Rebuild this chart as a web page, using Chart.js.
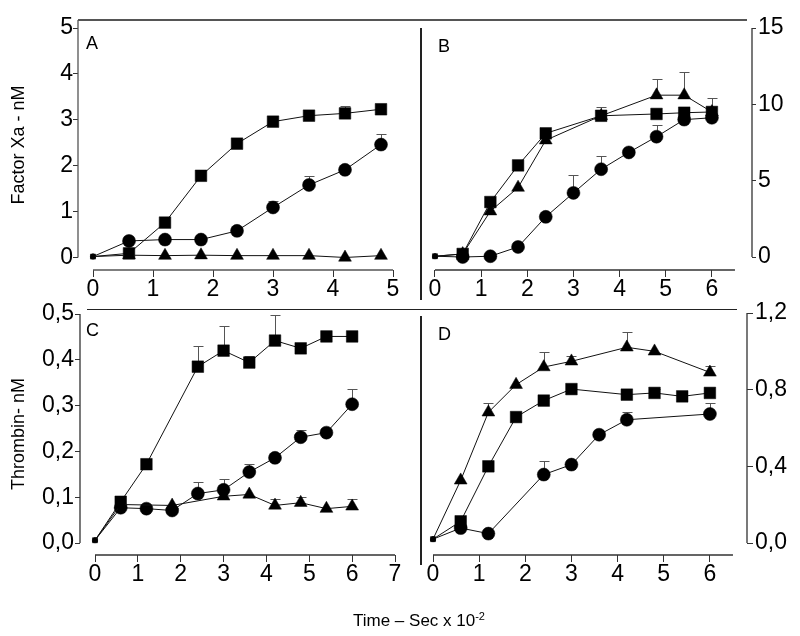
<!DOCTYPE html>
<html><head><meta charset="utf-8">
<script src="https://cdn.jsdelivr.net/npm/chart.js@4.4.1/dist/chart.umd.min.js"></script>
<style>
html,body{margin:0;padding:0;background:#fff;}
#wrap{position:relative;width:800px;height:636px;overflow:hidden;font-family:'Liberation Sans',Arial,sans-serif;}
canvas{position:absolute;left:0;top:0;}
.ln{position:absolute;background:#555;}
.lbl{position:absolute;font-size:18px;line-height:1;color:#000;white-space:nowrap;}
.xt{position:absolute;font-size:17px;line-height:1;color:#000;white-space:nowrap;}
.xt sup{font-size:11px;vertical-align:6px;line-height:0;}
</style></head><body>
<div id="wrap">
  <canvas id="cA" width="800" height="636"></canvas>
  <canvas id="cB" width="800" height="636"></canvas>
  <canvas id="cC" width="800" height="636"></canvas>
  <canvas id="cD" width="800" height="636"></canvas>
  <div class="ln" style="left:78px;top:19px;width:669px;height:1.5px"></div>
  <div class="ln" style="left:420px;top:28px;width:1.5px;height:272px;background:#222"></div>
  <div class="ln" style="left:87px;top:308.5px;width:650px;height:1.5px;background:#222"></div>
  <div class="ln" style="left:420px;top:316px;width:1.5px;height:249px;background:#222"></div>
  <div class="lbl" style="left:86px;top:34px">A</div>
  <div class="lbl" style="left:438px;top:37px">B</div>
  <div class="lbl" style="left:86px;top:321px">C</div>
  <div class="lbl" style="left:438px;top:325px">D</div>
  <div class="xt" style="left:353px;top:612px">Time – Sec x 10<sup>-2</sup></div>
</div>
<script>
const FONT = "'Liberation Sans', Arial, sans-serif";

// ---------- Panel A : Factor Xa (nM) ----------
const A_TIME = [0, 0.6, 1.2, 1.8, 2.4, 3.0, 3.6, 4.2, 4.8];
const A_SQUARE = [0.02, 0.09, 0.76, 1.78, 2.48, 2.96, 3.09, 3.14, 3.23];
const A_SQUARE_ERR = [null, null, null, null, null, null, null, 0.17, null];
const A_CIRCLE = [0.02, 0.36, 0.39, 0.39, 0.58, 1.09, 1.58, 1.91, 2.46];
const A_CIRCLE_ERR = [null, null, null, null, null, 0.13, 0.19, null, 0.23];
const A_TRIANGLE = [0.02, 0.05, 0.04, 0.05, 0.04, 0.04, 0.04, 0.0, 0.04];
const A_XTICKS = [0, 1, 2, 3, 4, 5];
const A_XLABELS = ['0', '1', '2', '3', '4', '5'];
const A_YTICKS = [0, 1, 2, 3, 4, 5];
const A_YLABELS = ['0', '1', '2', '3', '4', '5'];

// ---------- Panel B : Factor Xa (nM) ----------
const B_SQUARE_TIME = [0, 0.6, 1.2, 1.8, 2.4, 3.6, 4.8, 5.4, 6.0];
const B_SQUARE = [0.05, 0.2, 3.6, 6.0, 8.1, 9.25, 9.37, 9.45, 9.5];
const B_SQUARE_ERR = [null, null, null, null, null, null, null, null, null];
const B_TRIANGLE_TIME = [0, 0.6, 1.2, 1.8, 2.4, 3.6, 4.8, 5.4, 6.0];
const B_TRIANGLE = [0.05, 0.2, 3.0, 4.55, 7.65, 9.25, 10.6, 10.6, 9.5];
const B_TRIANGLE_ERR = [null, null, null, null, null, 0.55, 1.05, 1.55, 0.9];
const B_CIRCLE_TIME = [0, 0.6, 1.2, 1.8, 2.4, 3.0, 3.6, 4.2, 4.8, 5.4, 6.0];
const B_CIRCLE = [0.05, 0.0, 0.05, 0.66, 2.63, 4.2, 5.75, 6.85, 7.88, 9.0, 9.12];
const B_CIRCLE_ERR = [null, null, null, null, null, 1.15, 0.85, null, 0.76, null, null];
const B_XTICKS = [0, 1, 2, 3, 4, 5, 6];
const B_XLABELS = ['0', '1', '2', '3', '4', '5', '6'];
const B_YTICKS = [0, 5, 10, 15];
const B_YLABELS = ['0', '5', '10', '15'];

// ---------- Panel C : Thrombin (nM) ----------
const C_SQUARE_TIME = [0, 0.6, 1.2, 2.4, 3.0, 3.6, 4.2, 4.8, 5.4, 6.0];
const C_SQUARE = [0.006, 0.09, 0.172, 0.385, 0.42, 0.394, 0.442, 0.425, 0.451, 0.451];
const C_SQUARE_ERR = [null, null, null, 0.045, 0.053, 0.014, 0.055, null, null, null];
const C_CIRCLE_TIME = [0, 0.6, 1.2, 1.8, 2.4, 3.0, 3.6, 4.2, 4.8, 5.4, 6.0];
const C_CIRCLE = [0.006, 0.077, 0.075, 0.071, 0.108, 0.116, 0.155, 0.186, 0.231, 0.241, 0.303];
const C_CIRCLE_ERR = [null, null, null, null, 0.025, 0.024, 0.018, null, 0.016, null, 0.034];
const C_TRIANGLE_TIME = [0, 0.6, 1.8, 3.0, 3.6, 4.2, 4.8, 5.4, 6.0];
const C_TRIANGLE = [0.006, 0.084, 0.082, 0.102, 0.106, 0.082, 0.088, 0.075, 0.08];
const C_TRIANGLE_ERR = [null, null, null, null, null, 0.015, 0.012, null, 0.017];
const C_XTICKS = [0, 1, 2, 3, 4, 5, 6, 7];
const C_XLABELS = ['0', '1', '2', '3', '4', '5', '6', '7'];
const C_YTICKS = [0, 0.1, 0.2, 0.3, 0.4, 0.5];
const C_YLABELS = ['0,0', '0,1', '0,2', '0,3', '0,4', '0,5'];

// ---------- Panel D : Thrombin (nM) ----------
const D_TRIANGLE_TIME = [0, 0.6, 1.2, 1.8, 2.4, 3.0, 4.2, 4.8, 6.0];
const D_TRIANGLE = [0.02, 0.327, 0.682, 0.826, 0.918, 0.948, 1.021, 1.0, 0.89];
const D_TRIANGLE_ERR = [null, null, 0.05, null, 0.08, 0.03, 0.078, null, 0.035];
const D_SQUARE_TIME = [0, 0.6, 1.2, 1.8, 2.4, 3.0, 4.2, 4.8, 5.4, 6.0];
const D_SQUARE = [0.02, 0.113, 0.4, 0.657, 0.743, 0.803, 0.774, 0.783, 0.765, 0.783];
const D_SQUARE_ERR = [null, null, 0.025, null, null, null, null, 0.02, null, null];
const D_CIRCLE_TIME = [0, 0.6, 1.2, 2.4, 3.0, 3.6, 4.2, 6.0];
const D_CIRCLE = [0.02, 0.078, 0.049, 0.357, 0.409, 0.565, 0.643, 0.673];
const D_CIRCLE_ERR = [null, null, null, 0.07, null, null, 0.04, 0.06];
const D_XTICKS = [0, 1, 2, 3, 4, 5, 6];
const D_XLABELS = ['0', '1', '2', '3', '4', '5', '6'];
const D_YTICKS = [0, 0.4, 0.8, 1.2];
const D_YLABELS = ['0,0', '0,4', '0,8', '1,2'];

// ---------- helpers ----------
const TICK_SIZE = 23;
const RADIUS = { rect: 8.2, circle: 6.5, triangle: 7.4 };
const SMALL = { rect: 3.6, circle: 2.6, triangle: 3 };

function series(style, xs, ys, errs) {
  return {
    data: xs.map((x, i) => ({ x: x, y: ys[i] })),
    showLine: true,
    borderColor: '#111',
    borderWidth: 1,
    backgroundColor: '#000',
    pointStyle: style,
    pointRadius: xs.map((x, i) => i === 0 ? SMALL[style] : RADIUS[style]),
    pointBackgroundColor: '#000',
    pointBorderColor: '#000',
    pointBorderWidth: 0.5,
    errUp: errs || null,
    clip: false
  };
}

const errorBars = {
  id: 'errorBars',
  beforeDatasetsDraw(chart) {
    const ctx = chart.ctx, xs = chart.scales.x, ys = chart.scales.y;
    ctx.save();
    ctx.strokeStyle = '#555';
    ctx.lineWidth = 1;
    chart.data.datasets.forEach(ds => {
      if (!ds.errUp) return;
      ds.data.forEach((p, i) => {
        const e = ds.errUp[i];
        if (e == null) return;
        const px = Math.round(xs.getPixelForValue(p.x)) + 0.5;
        const py = ys.getPixelForValue(p.y);
        const pt = Math.round(ys.getPixelForValue(p.y + e)) + 0.5;
        ctx.beginPath();
        ctx.moveTo(px, py); ctx.lineTo(px, pt);
        ctx.moveTo(px - 5, pt); ctx.lineTo(px + 5, pt);
        ctx.stroke();
      });
    });
    ctx.restore();
  }
};

const axisLines = {
  id: 'axisLines',
  afterDraw(chart, args, o) {
    const ctx = chart.ctx, xs = chart.scales.x, ys = chart.scales.y;
    ctx.save();
    ctx.strokeStyle = o.color || '#333';
    ctx.lineWidth = 1.3;
    ctx.beginPath();
    const yb = xs.top;
    ctx.moveTo(xs.getPixelForValue(o.xFrom), yb);
    ctx.lineTo(xs.getPixelForValue(o.xTo), yb);
    const yx = ys.position === 'left' ? ys.right : ys.left;
    ctx.moveTo(yx, ys.getPixelForValue(o.yFrom));
    ctx.lineTo(yx, ys.getPixelForValue(o.yTo));
    ctx.stroke();
    ctx.restore();
  }
};

function makeChart(id, c) {
  return new Chart(document.getElementById(id), {
    type: 'scatter',
    data: { datasets: c.datasets },
    plugins: [errorBars, axisLines],
    options: {
      responsive: false,
      animation: false,
      devicePixelRatio: 1,
      events: [],
      layout: { padding: c.padding },
      plugins: {
        legend: { display: false },
        tooltip: { enabled: false },
        axisLines: c.axis
      },
      scales: {
        x: {
          type: 'linear', position: 'bottom', min: c.xmin, max: c.xmax,
          afterBuildTicks: s => { s.ticks = c.xticks.map(v => ({ value: v })); },
          afterFit: s => { s.height = 40; },
          grid: { drawOnChartArea: false, drawTicks: true, tickLength: 7, color: '#333', lineWidth: 1 },
          border: { display: false },
          ticks: {
            font: { size: TICK_SIZE, family: FONT, lineHeight: 1 }, color: '#000', padding: 1,
            maxRotation: 0, minRotation: 0, autoSkip: false,
            callback: (v, i) => c.xlabels[i]
          }
        },
        y: {
          type: 'linear', position: c.ypos, min: c.ymin, max: c.ymax,
          afterBuildTicks: s => { s.ticks = c.yticks.map(v => ({ value: v })); },
          afterFit: s => { s.width = c.ywidth; },
          grid: { drawOnChartArea: false, drawTicks: true, tickLength: c.ytl, color: '#333', lineWidth: 1 },
          border: { display: false },
          ticks: {
            font: { size: TICK_SIZE, family: FONT, lineHeight: 1 }, color: '#000', padding: c.ypad,
            autoSkip: false,
            callback: (v, i) => c.ylabels[i]
          },
          title: c.ytitle ? {
            display: true, text: c.ytitle, color: '#000',
            font: { size: 18, family: FONT, lineHeight: 1.2 },
            padding: { top: 8, bottom: 0 }
          } : { display: false }
        }
      }
    }
  });
}

// Panel A
makeChart('cA', {
  datasets: [
    series('triangle', A_TIME, A_TRIANGLE, null),
    series('circle', A_TIME, A_CIRCLE, A_CIRCLE_ERR),
    series('rect', A_TIME, A_SQUARE, A_SQUARE_ERR)
  ],
  padding: { left: 0, top: 20, right: 407, bottom: 326 },
  xmin: -0.25, xmax: 5, ymin: -0.273, ymax: 5.175,
  xticks: A_XTICKS, xlabels: A_XLABELS, yticks: A_YTICKS, ylabels: A_YLABELS,
  ypos: 'left', ywidth: 78, ytl: 5, ypad: 0, ytitle: 'Factor Xa - nM',
  axis: { xFrom: 0, xTo: 5, yFrom: 0, yTo: 5.175, color: '#555' }
});

// Panel B
makeChart('cB', {
  datasets: [
    series('circle', B_CIRCLE_TIME, B_CIRCLE, B_CIRCLE_ERR),
    series('rect', B_SQUARE_TIME, B_SQUARE, B_SQUARE_ERR),
    series('triangle', B_TRIANGLE_TIME, B_TRIANGLE, B_TRIANGLE_ERR)
  ],
  padding: { left: 420, top: 20, right: 0, bottom: 326 },
  xmin: -0.325, xmax: 6.869, ymin: -0.851, ymax: 15.524,
  xticks: B_XTICKS, xlabels: B_XLABELS, yticks: B_YTICKS, ylabels: B_YLABELS,
  ypos: 'right', ywidth: 48, ytl: 4, ypad: 2, ytitle: null,
  axis: { xFrom: 0, xTo: 6.5, yFrom: 0, yTo: 15, color: '#333' }
});

// Panel C
makeChart('cC', {
  datasets: [
    series('triangle', C_TRIANGLE_TIME, C_TRIANGLE, C_TRIANGLE_ERR),
    series('circle', C_CIRCLE_TIME, C_CIRCLE, C_CIRCLE_ERR),
    series('rect', C_SQUARE_TIME, C_SQUARE, C_SQUARE_ERR)
  ],
  padding: { left: 0, top: 313, right: 405, bottom: 41 },
  xmin: -0.35, xmax: 7, ymin: -0.0262, ymax: 0.5022,
  xticks: C_XTICKS, xlabels: C_XLABELS, yticks: C_YTICKS, ylabels: C_YLABELS,
  ypos: 'left', ywidth: 80, ytl: 5, ypad: 1, ytitle: 'Thrombin- nM',
  axis: { xFrom: 0, xTo: 7, yFrom: 0, yTo: 0.5, color: '#333' }
});

// Panel D
makeChart('cD', {
  datasets: [
    series('circle', D_CIRCLE_TIME, D_CIRCLE, D_CIRCLE_ERR),
    series('rect', D_SQUARE_TIME, D_SQUARE, D_SQUARE_ERR),
    series('triangle', D_TRIANGLE_TIME, D_TRIANGLE, D_TRIANGLE_ERR)
  ],
  padding: { left: 420, top: 313, right: 5, bottom: 41 },
  xmin: -0.2817, xmax: 6.804, ymin: -0.0626, ymax: 1.2,
  xticks: D_XTICKS, xlabels: D_XLABELS, yticks: D_YTICKS, ylabels: D_YLABELS,
  ypos: 'right', ywidth: 48, ytl: 6, ypad: 2, ytitle: null,
  axis: { xFrom: 0, xTo: 6.5, yFrom: 0, yTo: 1.2, color: '#333' }
});
</script>
</body></html>
